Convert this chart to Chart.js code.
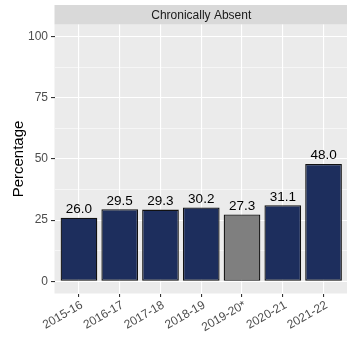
<!DOCTYPE html>
<html>
<head>
<meta charset="utf-8">
<script src="https://cdn.jsdelivr.net/npm/chart.js@4/dist/chart.umd.min.js"></script>
<style>
  html, body { margin: 0; padding: 0; background: #ffffff; overflow: hidden; }
  #wrap { width: 347px; height: 343px; }
</style>
</head>
<body>
<div id="wrap"><canvas id="chart" width="347" height="343"></canvas></div>
<script>
// School years shown on the x axis ("*" marks the disrupted 2019-20 year)
const schoolYears = ['2015-16', '2016-17', '2017-18', '2018-19', '2019-20*', '2020-21', '2021-22'];
// Share of students chronically absent, in percent
const chronicallyAbsent = [26.0, 29.5, 29.3, 30.2, 27.3, 31.1, 48.0];
// Labelled y-axis ticks and the minor lines between them
const yMajorTicks = [0, 25, 50, 75, 100];
const yMinorTicks = [12.5, 37.5, 62.5, 87.5];
const panelTitle = 'Chronically Absent';

const FONT = '"Liberation Sans", Arial, Helvetica, sans-serif';
const NAVY = '#1d2e5d';
const GREY = '#7f7f7f';
const PANEL_RIGHT = 348;

// Let the panel run right up to the edge of the canvas
const panelEdge = {
  id: 'panelEdge',
  afterLayout(chart) {
    const x = chart.scales.x;
    chart.chartArea.right = PANEL_RIGHT;
    chart.chartArea.width = PANEL_RIGHT - chart.chartArea.left;
    x.right = PANEL_RIGHT;
    x.width = PANEL_RIGHT - x.left;
    x.configure();
    chart.scales.y.configure();
  }
};

// Panel background and facet strip
const panelPlugin = {
  id: 'panel',
  beforeDraw(chart) {
    const { ctx, chartArea: a } = chart;
    ctx.save();
    ctx.fillStyle = '#ebebeb';
    ctx.fillRect(a.left, a.top, a.right - a.left, a.bottom - a.top);
    ctx.fillStyle = '#d9d9d9';
    ctx.fillRect(a.left, 5, a.right - a.left, a.top - 5);
    ctx.fillStyle = '#1a1a1a';
    ctx.font = '12px ' + FONT;
    ctx.textAlign = 'center';
    ctx.textBaseline = 'middle';
    ctx.fillText(panelTitle, (a.left + a.right) / 2, (5 + a.top) / 2 + 0.5);
    ctx.restore();
  }
};

// Value printed above each bar
const valueLabels = {
  id: 'valueLabels',
  afterDatasetsDraw(chart) {
    const { ctx } = chart;
    const meta = chart.getDatasetMeta(0);
    ctx.save();
    ctx.fillStyle = '#000000';
    ctx.font = '13.5px ' + FONT;
    ctx.textAlign = 'center';
    ctx.textBaseline = 'alphabetic';
    meta.data.forEach((bar, i) => {
      const v = chronicallyAbsent[i];
      if (v == null) return;
      ctx.fillText(v.toFixed(1), bar.x, bar.y - 4.5);
    });
    ctx.restore();
  }
};

const points = chronicallyAbsent.map((v, i) => ({ x: i, y: v }));
const fills = schoolYears.map(y => (y.endsWith('*') ? GREY : NAVY));

new Chart(document.getElementById('chart'), {
  type: 'bar',
  data: {
    datasets: [{
      data: points,
      backgroundColor: fills,
      borderColor: '#111111',
      borderWidth: 1.3,
      borderSkipped: false,
      barPercentage: 0.9,
      categoryPercentage: 1.0
    }]
  },
  options: {
    responsive: false,
    animation: false,
    devicePixelRatio: 1,
    layout: { autoPadding: false, padding: { top: 24.5, left: 0, right: 0, bottom: 0 } },
    plugins: { legend: { display: false }, tooltip: { enabled: false } },
    scales: {
      x: {
        type: 'linear',
        offset: false,
        min: -0.6,
        max: schoolYears.length - 1 + 0.6,
        afterBuildTicks(scale) {
          scale.ticks = schoolYears.map((_, i) => ({ value: i }));
        },
        afterFit(scale) {
          scale.height = 49.5;
          scale.paddingLeft = 0;
          scale.paddingRight = 0;
        },
        border: { display: false },
        grid: {
          offset: false,
          color: '#ffffff',
          lineWidth: 1.1,
          tickColor: '#333333',
          tickLength: 3.5,
          drawTicks: true
        },
        ticks: {
          autoSkip: false,
          minRotation: 30,
          maxRotation: 30,
          padding: 1,
          labelOffset: 3,
          color: '#4d4d4d',
          font: { family: FONT, size: 12 },
          callback: v => schoolYears[v] ?? ''
        }
      },
      y: {
        min: -5,
        max: 105,
        afterBuildTicks(scale) {
          scale.ticks = [...yMajorTicks, ...yMinorTicks]
            .sort((a, b) => a - b)
            .map(v => ({ value: v }));
        },
        afterFit(scale) { scale.width = 54.5; },
        border: { display: false },
        grid: {
          color: '#ffffff',
          lineWidth: c => (yMajorTicks.includes(c.tick.value) ? 1.1 : 0.55),
          tickColor: c => (yMajorTicks.includes(c.tick.value) ? '#333333' : 'rgba(0,0,0,0)'),
          tickLength: 3.5
        },
        ticks: {
          padding: 3,
          color: '#4d4d4d',
          font: { family: FONT, size: 12 },
          callback: v => (yMajorTicks.includes(v) ? String(v) : '')
        },
        title: {
          display: true,
          text: 'Percentage',
          color: '#000000',
          font: { family: FONT, size: 15 },
          padding: { top: 10, bottom: 0 }
        }
      }
    }
  },
  plugins: [panelEdge, panelPlugin, valueLabels]
});
</script>
</body>
</html>
